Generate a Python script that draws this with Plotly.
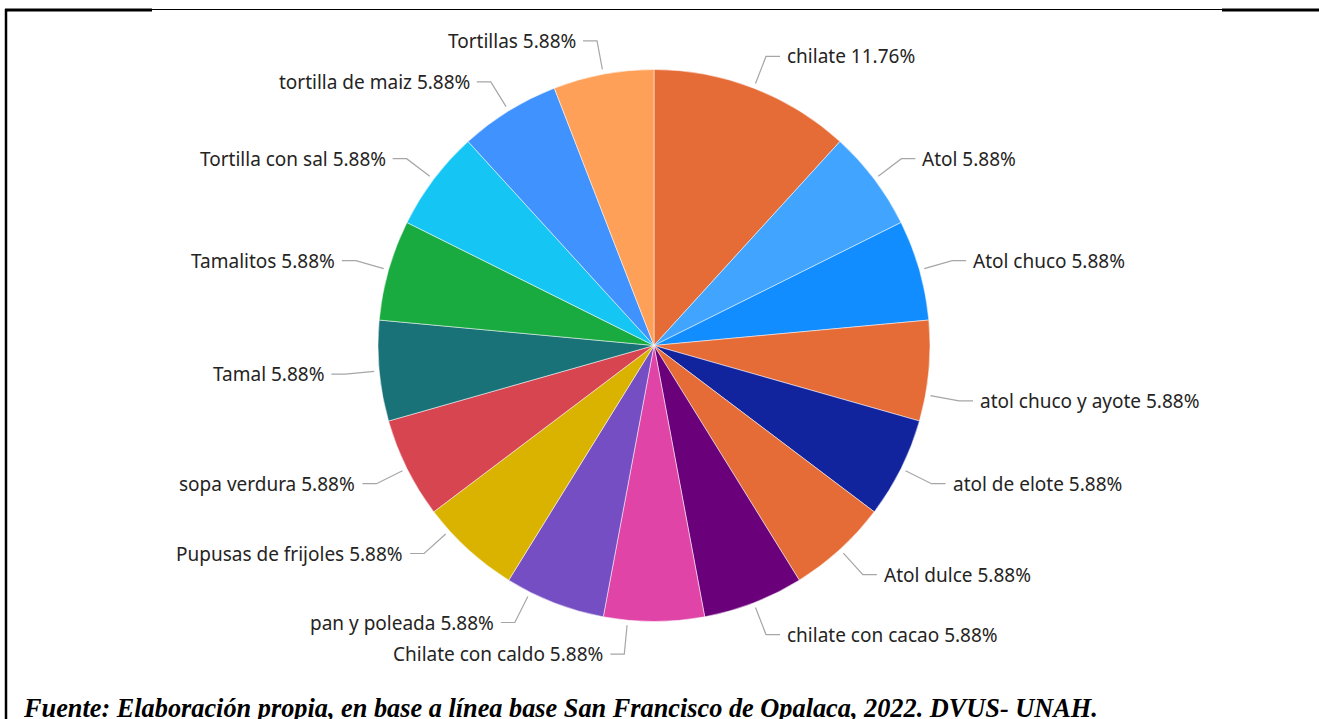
import math
import plotly.graph_objects as go

# ---------------- data ----------------
categories = [
    "chilate", "Atol", "Atol chuco", "atol chuco y ayote", "atol de elote",
    "Atol dulce", "chilate con cacao", "Chilate con caldo", "pan y poleada",
    "Pupusas de frijoles", "sopa verdura", "Tamal", "Tamalitos",
    "Tortilla con sal", "tortilla de maiz", "Tortillas",
]
counts = [2, 1, 1, 1, 1, 1, 1, 1, 1, 1, 1, 1, 1, 1, 1, 1]
slice_colors = [
    "#E66C37", "#41A4FF", "#118DFF", "#E66C37", "#12239E",
    "#E66C37", "#6B007B", "#E044A7", "#744EC2", "#D9B300",
    "#D64550", "#197278", "#1AAB40", "#15C6F4", "#4092FF", "#FFA058",
]
source_note = "Fuente: Elaboración propia, en base a línea base San Francisco de Opalaca, 2022. DVUS- UNAH."

# ---------------- layout settings ----------------
W, H = 1319, 719
CX, CY, R = 654, 345.5, 276          # pie centre / radius in px
R_START, R_ELBOW, HSEG, GAP = 281, 310, 14, 5
# small angular nudges of label anchors (label-collision avoidance as in source)
LABEL_SHIFT_DEG = {"atol chuco y ayote": 5, "Chilate con caldo": 5.5,
                   "pan y poleada": 5.5, "Pupusas de frijoles": 5.5}
LABEL_FONT = dict(family="Noto Sans, Open Sans, sans-serif", size=19, color="#252423")
LEADER_COLOR = "#A6A6A6"


def px(x):
    return x / W


def py(y):
    return 1 - y / H


fig = go.Figure(go.Pie(
    labels=categories, values=counts, sort=False, direction="clockwise",
    rotation=0, textinfo="none", hoverinfo="label+percent",
    marker=dict(colors=slice_colors, line=dict(color="rgba(255,255,255,0.5)", width=1)),
    domain=dict(x=[px(CX - R), px(CX + R)], y=[py(CY + R), py(CY - R)]),
    showlegend=False,
))

total = sum(counts)
shapes = []
annotations = []
cum = 0
for name, v in zip(categories, counts):
    mid = (cum + v / 2) / total * 360 + LABEL_SHIFT_DEG.get(name, 0)
    cum += v
    a = math.radians(mid)
    sx, sy = CX + R_START * math.sin(a), CY - R_START * math.cos(a)
    ex, ey = CX + R_ELBOW * math.sin(a), CY - R_ELBOW * math.cos(a)
    side = 1 if math.sin(a) > 0 else -1
    hx = ex + side * HSEG
    shapes.append(dict(
        type="path", xref="paper", yref="paper",
        path=f"M {px(sx)},{py(sy)} L {px(ex)},{py(ey)} L {px(hx)},{py(ey)}",
        line=dict(color=LEADER_COLOR, width=1.2),
    ))
    pct = v / total * 100
    annotations.append(dict(
        x=px(hx + side * GAP), y=py(ey), xref="paper", yref="paper",
        text=f"{name} {pct:.2f}%", showarrow=False,
        xanchor="left" if side > 0 else "right", yanchor="middle",
        font=LABEL_FONT,
    ))

# frame lines (table cell border)
shapes += [
    dict(type="line", xref="paper", yref="paper", x0=px(152), x1=px(1222), y0=py(9.5), y1=py(9.5),
         line=dict(color="black", width=1)),
    dict(type="line", xref="paper", yref="paper", x0=px(5), x1=px(152), y0=py(10), y1=py(10),
         line=dict(color="black", width=3)),
    dict(type="line", xref="paper", yref="paper", x0=px(1222), x1=px(1319), y0=py(10), y1=py(10),
         line=dict(color="black", width=3)),
    dict(type="line", xref="paper", yref="paper", x0=px(6), x1=px(6), y0=py(9), y1=py(719),
         line=dict(color="black", width=2.5)),
]

annotations.append(dict(
    x=px(21), y=py(708), xref="paper", yref="paper", text=f"<b><i>{source_note}</i></b>",
    showarrow=False, xanchor="left", yanchor="middle",
    font=dict(family="Liberation Serif, Times New Roman, serif", size=26.3, color="black"),
))

fig.update_layout(
    width=W, height=H, autosize=False,
    margin=dict(l=0, r=0, t=0, b=0),
    paper_bgcolor="white", plot_bgcolor="white",
    shapes=shapes, annotations=annotations,
)

fig.write_html("out.html", config={"displayModeBar": False},
               post_script="document.body.style.margin='0';")
